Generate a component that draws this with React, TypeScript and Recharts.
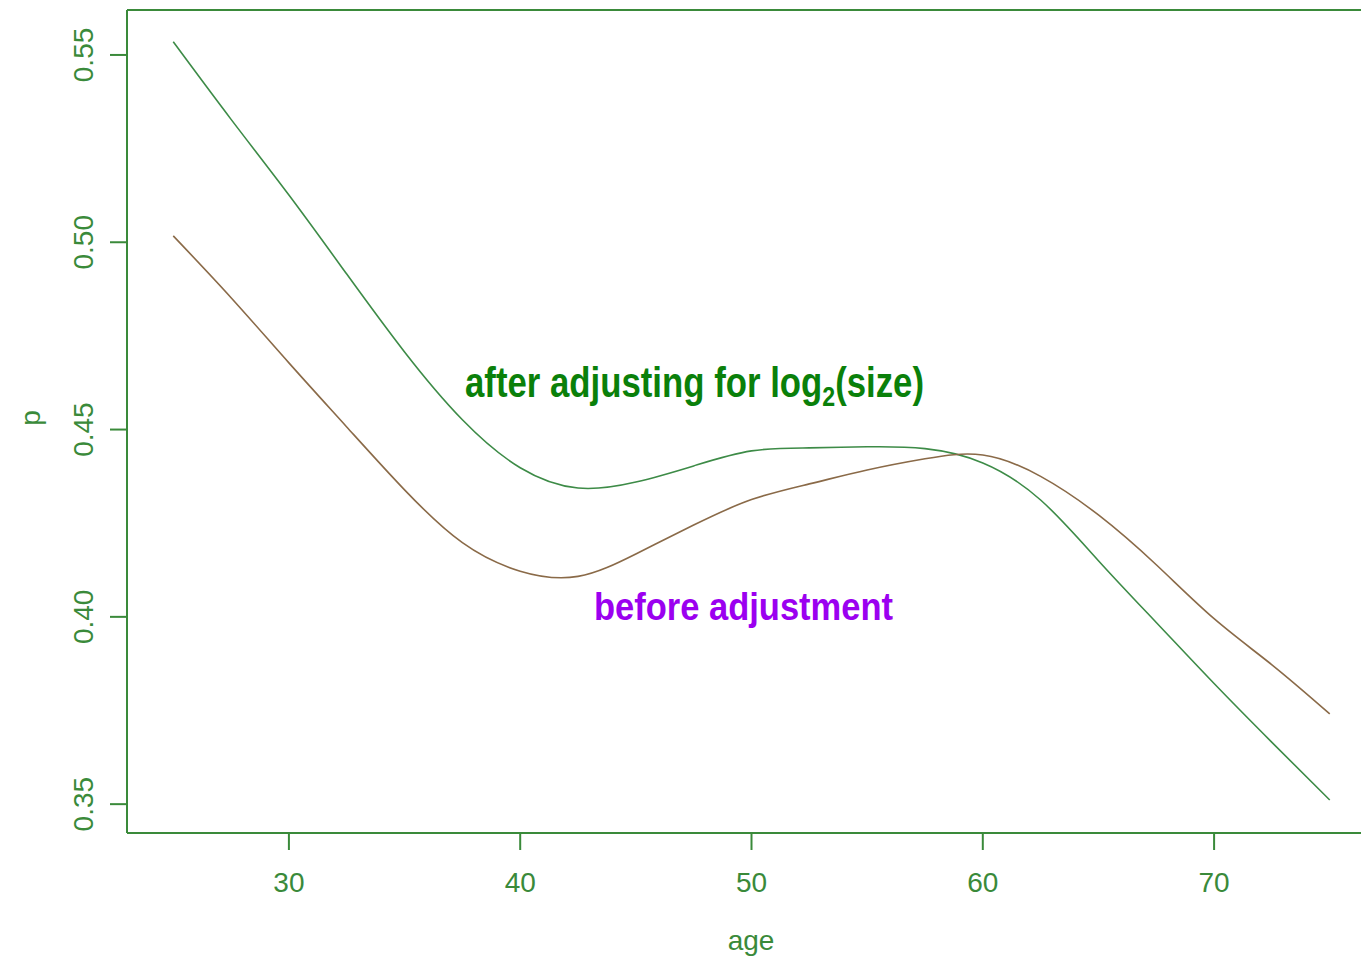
import { LineChart, Line, XAxis, YAxis, ReferenceLine } from 'recharts';

const ages = [25, 27.5, 30, 32.5, 35, 37.5, 40, 42.5, 45, 47.5, 50, 52.5, 55, 57.5, 60, 62.5, 65, 67.5, 70, 72.5, 75];
const afterAdj = [0.5535, 0.5328, 0.5126, 0.4915, 0.4707, 0.4526, 0.4398, 0.4344, 0.436, 0.4403, 0.4443, 0.4451, 0.4454, 0.4449, 0.4411, 0.4312, 0.415, 0.3985, 0.3822, 0.3665, 0.3511];
const beforeAdj = [0.5017, 0.4852, 0.4678, 0.4507, 0.4339, 0.4198, 0.4122, 0.4108, 0.4168, 0.4245, 0.4313, 0.4355, 0.4392, 0.4422, 0.4432, 0.4375, 0.4272, 0.4139, 0.3995, 0.3872, 0.3741];
const xTicks = [30, 40, 50, 60, 70];
const yTicks = [0.35, 0.4, 0.45, 0.5, 0.55];

const X_MIN = 23;
const X_MAX = 77;
const Y_MIN = 0.3423;
const Y_MAX = 0.562;

const AXIS = '#3a8a3a';
const FONT = '"Liberation Sans", Arial, sans-serif';

const data = ages.map((age, i) => ({ age, after: afterAdj[i], before: beforeAdj[i] }));

function XTick(props: any) {
  const { x, y, payload } = props;
  return (
    <text x={x} y={y + 32} textAnchor="middle" dominantBaseline="central" fill={AXIS} fontSize={28} fontFamily={FONT}>
      {payload.value}
    </text>
  );
}

function YTick(props: any) {
  const { x, y, payload } = props;
  const cx = x - 26;
  return (
    <text
      x={cx}
      y={y}
      transform={`rotate(-90 ${cx} ${y})`}
      textAnchor="middle"
      dominantBaseline="central"
      fill={AXIS}
      fontSize={28}
      fontFamily={FONT}
    >
      {payload.value.toFixed(2)}
    </text>
  );
}

export default function App() {
  return (
    <div style={{ position: 'absolute', left: 0, top: 0, width: 1361, height: 960, overflow: 'hidden', background: '#fff' }}>
      <LineChart width={1400} height={960} data={data} margin={{ top: 10, right: 24, bottom: 0, left: 0 }}>
        <XAxis
          dataKey="age"
          type="number"
          domain={[X_MIN, X_MAX]}
          ticks={xTicks}
          allowDataOverflow
          height={127}
          tickSize={17}
          tickMargin={0}
          stroke={AXIS}
          strokeWidth={2}
          tick={<XTick />}
        />
        <YAxis
          type="number"
          domain={[Y_MIN, Y_MAX]}
          ticks={yTicks}
          allowDataOverflow
          width={127}
          tickSize={17}
          tickMargin={0}
          stroke={AXIS}
          strokeWidth={2}
          tick={<YTick />}
        />
        <ReferenceLine y={Y_MAX} stroke={AXIS} strokeWidth={2} />
        <ReferenceLine x={X_MAX} stroke={AXIS} strokeWidth={2} />
        <Line type="natural" dataKey="after" stroke="#3d8b47" strokeWidth={1.6} dot={false} isAnimationActive={false} />
        <Line type="natural" dataKey="before" stroke="#8a6a48" strokeWidth={1.6} dot={false} isAnimationActive={false} />
      </LineChart>
      <svg width={1361} height={960} style={{ position: 'absolute', left: 0, top: 0, pointerEvents: 'none' }}>
        <text x={751} y={940} textAnchor="middle" dominantBaseline="central" fill={AXIS} fontSize={28} fontFamily={FONT}>
          age
        </text>
        <text
          x={30}
          y={418}
          transform="rotate(-90 30 418)"
          textAnchor="middle"
          dominantBaseline="central"
          fill={AXIS}
          fontSize={28}
          fontFamily={FONT}
        >
          p
        </text>
        <text
          x={465}
          y={397}
          fill="#0a800a"
          fontSize={42}
          fontWeight="bold"
          fontFamily={FONT}
          textLength={459}
          lengthAdjust="spacingAndGlyphs"
        >
          after adjusting for log<tspan fontSize={28} dy={9}>2</tspan><tspan dy={-9}>(size)</tspan>
        </text>
        <text
          x={594}
          y={620}
          fill="#9b00f0"
          fontSize={38}
          fontWeight="bold"
          fontFamily={FONT}
          textLength={299}
          lengthAdjust="spacingAndGlyphs"
        >
          before adjustment
        </text>
      </svg>
    </div>
  );
}
